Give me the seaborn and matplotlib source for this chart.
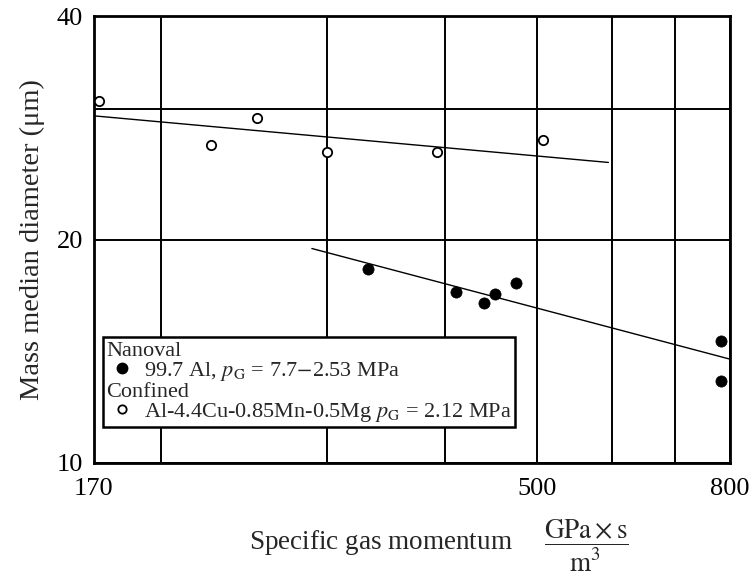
import numpy as np
import pandas as pd
import seaborn as sns
import matplotlib.pyplot as plt
from matplotlib.lines import Line2D
from matplotlib.ticker import FixedLocator, NullFormatter, NullLocator

# Nanoval, 99.7 Al (filled)
nano_x = [331, 411, 440, 451, 475, 782, 782]
nano_y = [18.25, 17.0, 16.4, 16.9, 17.45, 14.6, 12.9]
nano_fit_x = [289, 800]
nano_fit_y = [19.45, 13.8]

# Confined, Al-4.4Cu-0.85Mn-0.5Mg (open)
conf_x = [172, 226, 253, 300, 392, 507]
conf_y = [30.7, 26.8, 29.2, 26.2, 26.2, 27.2]
conf_fit_x = [170, 595]
conf_fit_y = [29.35, 25.4]

x_ticks = [170, 500, 800]
x_grid = [200, 300, 400, 600, 700]
y_ticks = [10, 20, 30, 40]
y_labels = ['10', '20', '', '40']

sns.set_style('white')
plt.rcParams['font.family'] = ['Liberation Serif', 'DejaVu Serif']
plt.rcParams['mathtext.fontset'] = 'stix'

df_nano = pd.DataFrame({'x': nano_x, 'y': nano_y})
df_conf = pd.DataFrame({'x': conf_x, 'y': conf_y})

fig = plt.figure(figsize=(7.5, 5.73), dpi=100)
ax = fig.add_axes([0.1253, 0.192, 0.848, 0.780])

sns.lineplot(x=conf_fit_x, y=conf_fit_y, ax=ax, color='black', lw=1.0,
             sort=False, estimator=None, zorder=3)
sns.lineplot(x=nano_fit_x, y=nano_fit_y, ax=ax, color='black', lw=1.0,
             sort=False, estimator=None, zorder=3)
sns.scatterplot(data=df_nano, x='x', y='y', ax=ax, color='black', s=65,
                edgecolor='black', linewidth=0.5, zorder=4)
sns.scatterplot(data=df_conf, x='x', y='y', ax=ax, facecolor='white', s=45,
                edgecolor='black', linewidth=1.3, zorder=4)

ax.set_xscale('log')
ax.set_yscale('log')
ax.set_xlim(170, 800)
ax.set_ylim(10, 40)

ax.xaxis.set_major_locator(FixedLocator(x_ticks))
ax.set_xticklabels([str(t) for t in x_ticks])
ax.xaxis.set_minor_locator(FixedLocator(x_grid))
ax.xaxis.set_minor_formatter(NullFormatter())
ax.yaxis.set_major_locator(FixedLocator(y_ticks))
ax.set_yticklabels(y_labels)
ax.yaxis.set_minor_locator(NullLocator())

ax.grid(True, which='major', color='black', lw=1.4)
ax.grid(True, which='minor', axis='x', color='black', lw=1.4)
ax.tick_params(which='major', direction='out', length=6, width=1.4,
               colors='black', labelsize=19, pad=2)
ax.tick_params(axis='x', which='major', pad=5)
ax.tick_params(which='minor', length=0)
for sp in ax.spines.values():
    sp.set_color('black')
    sp.set_linewidth(2.0)

ax.set_ylabel('Mass median diameter (μm)', fontsize=20.5, labelpad=8)
ax.set_xlabel(r'Specific gas momentum  $\quad\dfrac{\mathrm{GPa\times s}}{\mathrm{m^3}}$',
              fontsize=19.5)
ax.xaxis.set_label_coords(0.542, -0.122, transform=ax.transAxes)

headers = ['Nanoval', 'Confined']
handles = [
    Line2D([], [], ls='none'),
    Line2D([], [], ls='none', marker='o', markersize=7.5, color='black'),
    Line2D([], [], ls='none'),
    Line2D([], [], ls='none', marker='o', markersize=6, markerfacecolor='white',
           markeredgecolor='black', markeredgewidth=1.3),
]
labels = [
    'Nanoval',
    r'99.7 Al, $p_{\mathrm{G}}$ = 7.7$-$2.53 MPa',
    'Confined',
    r'Al-4.4Cu-0.85Mn-0.5Mg $p_{\mathrm{G}}$ = 2.12 MPa',
]
leg = ax.legend(handles, labels, loc='lower left', bbox_to_anchor=(0.014, 0.08),
                borderaxespad=0, fontsize=16, frameon=True, fancybox=False,
                framealpha=1, edgecolor='black', handlelength=1.4,
                handletextpad=0.3, labelspacing=-0.05, borderpad=0.15)
leg.get_frame().set_linewidth(1.8)
leg.set_zorder(5)
for col in leg._legend_handle_box.get_children():
    for hp, lab in zip(col.get_children(), labels):
        if lab in headers:
            hp.get_children()[0].set_width(0)
            hp.sep = 0

fig.savefig('out.png', dpi=100)
